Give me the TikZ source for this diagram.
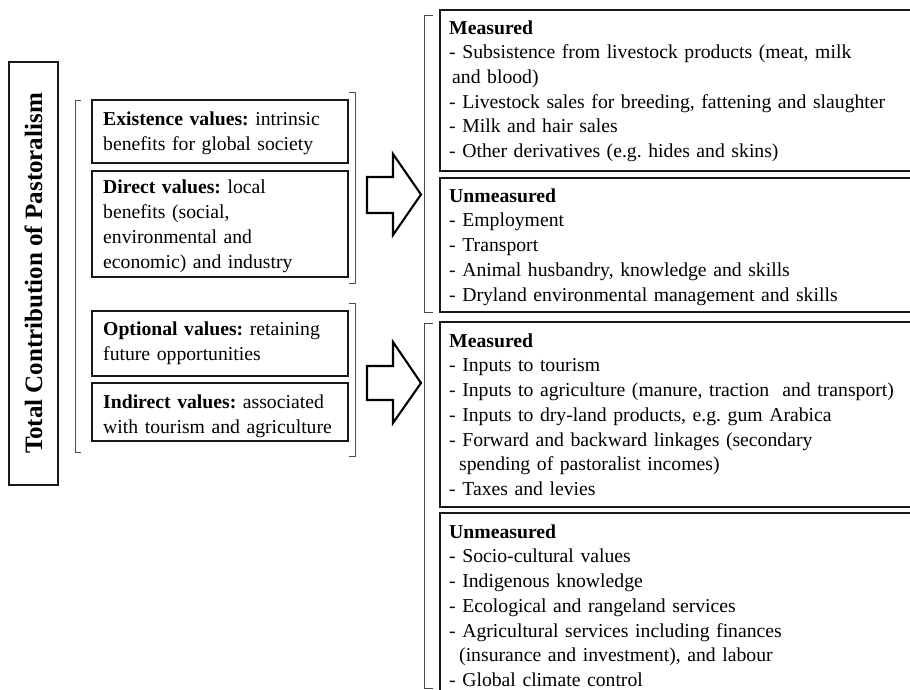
\documentclass[tikz,border=0pt]{standalone}
\usepackage{fontspec}
\setmainfont{Liberation Serif}
\newcommand{\rfs}{\fontsize{19.7}{24.7}\selectfont}
\newcommand{\lfs}{\fontsize{19.7}{25}\selectfont}
\frenchspacing
\begin{document}
\begin{tikzpicture}[x=1pt,y=-1pt,
  box/.style={draw=black!90, line width=1.1pt},
  brk/.style={draw=black!70, line width=0.9pt},
  arr/.style={draw=black, line width=2.1pt, fill=white, line join=miter},
  rtxt/.style={font=\rfs, align=left, inner sep=0pt, anchor=north west, text width=455pt},
  ltxt/.style={font=\lfs, align=left, inner sep=0pt, anchor=north west, text width=240pt},
  title/.style={draw=black!90, line width=1.1pt, rotate=90, inner sep=0pt,
    minimum width=423pt, minimum height=49pt, font=\fontsize{25}{30}\selectfont\bfseries}]
\clip (0,0) rectangle (910,690);
\fill[white] (0,0) rectangle (910,690);

% title
\node[title] (ttl) at (33.5,273.5) {Total Contribution of Pastoralism};

% left bracket
\draw[brk] (81,100) -- (75,100) -- (75,452) -- (81,452);

% left boxes
\draw[box] (92,100) rectangle (348,163);
\draw[box] (92,171) rectangle (348,277);
\draw[box] (92,311) rectangle (348,376);
\draw[box] (92,383) rectangle (348,441);

\node[ltxt] (ex) at (103,125-17.5) {\strut\makebox[235pt][s]{\textbf{Existence values:} intrinsic}\\benefits for global society};
\node[ltxt] (di) at (103,193-17.5) {\strut\textbf{Direct values:} local\\benefits (social,\\environmental and\\economic) and industry};
\node[ltxt] (op) at (103,335-17.5) {\strut\makebox[235pt][s]{\textbf{Optional values:} retaining}\\future opportunities};
\node[ltxt] (in) at (103,408-17.5) {\strut\makebox[235pt][s]{\textbf{Indirect values:} associated}\\with tourism and agriculture};

% right brackets of left groups
\draw[brk] (349,92) -- (355,92) -- (355,283) -- (349,283);
\draw[brk] (349,303) -- (355,303) -- (355,456) -- (349,456);

% block arrows
\draw[arr] (367,177) -- (393,177) -- (393,154) -- (421,194.5) -- (393,235) -- (393,213) -- (367,213) -- cycle;
\draw[arr] (367,366) -- (393,366) -- (393,342) -- (421,383) -- (393,423) -- (393,400) -- (367,400) -- cycle;

% right brackets
\draw[brk] (433,15) -- (424,15) -- (424,312) -- (433,312);
\draw[brk] (433,323) -- (424,323) -- (424,688) -- (433,688);

% right boxes
\draw[box] (440,10) rectangle (920,171);
\draw[box] (440,178) rectangle (920,312);
\draw[box] (440,322) rectangle (920,507);
\draw[box] (440,513) rectangle (920,700);

\node[rtxt] (m1) at (449,34-17.29) {\strut\textbf{Measured}\\
- Subsistence from livestock products (meat, milk\\
\hspace*{3pt}and blood)\\
- Livestock sales for breeding, fattening and slaughter\\
- Milk and hair sales\\
- Other derivatives (e.g. hides and skins)};

\node[rtxt] (u1) at (449,202-17.29) {\strut\textbf{Unmeasured}\\
- Employment\\
- Transport\\
- Animal husbandry, knowledge and skills\\
- Dryland environmental management and skills};

\node[rtxt] (m2) at (449,347-17.29) {\strut\textbf{Measured}\\
- Inputs to tourism\\
- Inputs to agriculture (manure, traction\ \ and transport)\\
- Inputs to dry-land products, e.g. gum Arabica\\
- Forward and backward linkages (secondary\\
\hspace*{10pt}spending of pastoralist incomes)\\
- Taxes and levies};

\node[rtxt] (u2) at (449,538-17.29) {\strut\textbf{Unmeasured}\\
- Socio-cultural values\\
- Indigenous knowledge\\
- Ecological and rangeland services\\
- Agricultural services including finances\\
\hspace*{10pt}(insurance and investment), and labour\\
- Global climate control};
\end{tikzpicture}
\end{document}
